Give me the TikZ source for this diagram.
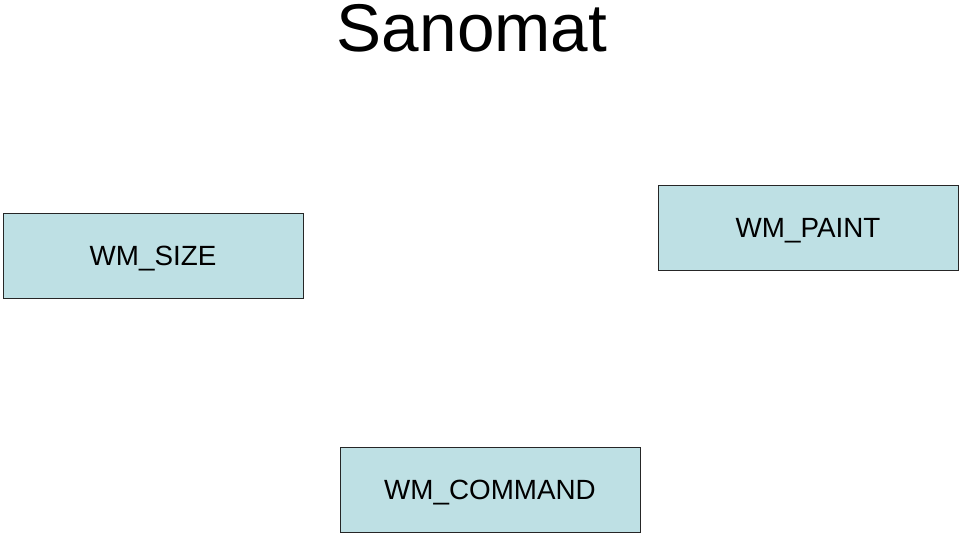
\documentclass[tikz,border=0pt]{standalone}
\usepackage{fontspec}
\setmainfont{Liberation Sans}
\usetikzlibrary{positioning}
\definecolor{msgfill}{RGB}{190,224,228}

\begin{document}
\begin{tikzpicture}[
    x=1pt, y=-1pt,
    msg/.style={rectangle, draw=black!85, fill=msgfill, line width=0.9pt,
                minimum width=300pt, minimum height=85pt, inner sep=0pt,
                text height=19.5pt, text depth=0pt,
                font=\fontsize{27.8}{31}\selectfont},
]
\useasboundingbox (0,0) rectangle (960,534);
% Title.
\node[anchor=base, font=\fontsize{67.5}{72}\selectfont] (title) at (472,52) {Sanomat};
% Message boxes.
\node[msg] (size)    at (153,255.5) {WM\_SIZE};
\node[msg] (paint)   at (808,227.5) {WM\_PAINT};
\node[msg] (command) at (490,489.5) {WM\_COMMAND};
\end{tikzpicture}
\end{document}
